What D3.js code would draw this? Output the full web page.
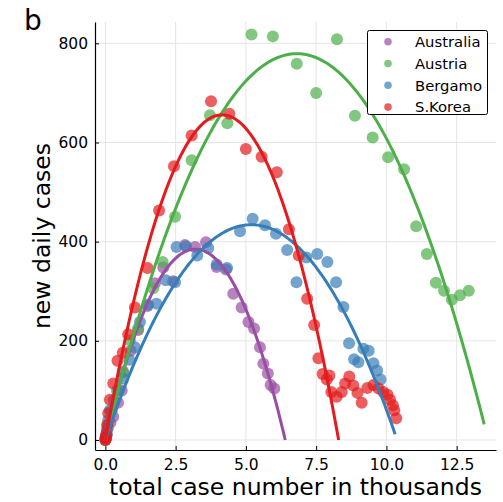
<!DOCTYPE html>
<html>
<head>
<meta charset="utf-8">
<script src="https://cdn.jsdelivr.net/npm/d3@7"></script>
<style>
  html, body { margin: 0; padding: 0; background: #fff; }
  svg { display: block; font-family: "DejaVu Sans", sans-serif; }
</style>
</head>
<body>
<svg id="chart" width="503" height="502"></svg>
<script>
// ---------- data ----------
const countries = ["Australia", "Austria", "Bergamo", "S.Korea"];
const colors = ["#984ea3", "#4daf4a", "#377eb8", "#e41a1c"];

const australia = [[0,0],[0.02,5],[0.05,10],[0.09,24],[0.18,35],[0.28,47],[0.45,75],[0.58,100],[0.63,138],[0.9,180],[1.17,222],[1.5,270],[1.76,316],[2.06,348],[2.41,320],[2.83,393],[3.19,389],[3.58,399],[3.96,349],[4.29,344],[4.55,295],[4.85,267],[5.09,238],[5.29,225],[5.50,187],[5.62,154],[5.78,134],[5.88,111],[6.01,104]];

const austria = [[0,0],[0.02,4],[0.05,12],[0.09,30],[0.23,60],[0.41,100],[0.62,136],[0.87,201],[1.16,225],[1.70,306],[2.04,359],[2.48,450],[3.07,564],[3.72,655],[4.34,639],[5.20,818],[5.96,814],[6.81,759],[7.50,700],[8.24,808],[8.88,654],[9.51,610],[10.06,570],[10.63,546],[11.06,431],[11.44,375],[11.76,317],[12.05,301],[12.33,283],[12.62,292],[12.93,301]];

const bergamo = [[0,5],[0.05,20],[0.10,40],[0.16,60],[0.3,80],[0.46,100],[0.63,124],[0.85,162],[1.05,187],[1.23,238],[1.52,273],[1.82,275],[2.15,322],[2.48,318],[2.53,389],[2.87,390],[3.27,372],[3.66,387],[3.96,354],[4.33,347],[4.79,421],[5.24,446],[5.68,433],[6.07,416],[6.47,383],[6.80,318],[7.15,368],[7.54,375],[7.90,359],[8.21,318],[8.47,268],[8.67,195],[8.85,163],[9.00,157],[9.18,184],[9.37,180],[9.54,155],[9.67,140],[9.79,122]];

const skorea = [[0,0],[0.01,2],[0.02,6],[0.03,12],[0.06,30],[0.10,54],[0.16,81],[0.28,114],[0.43,160],[0.62,176],[0.81,213],[1.05,267],[1.50,347],[1.91,463],[2.44,552],[3.07,614],[3.76,683],[4.41,658],[5.00,587],[5.56,571],[6.10,540],[6.53,425],[6.88,372],[7.18,285],[7.43,232],[7.58,165],[7.73,133],[7.88,122],[7.97,130],[8.04,97],[8.23,87],[8.41,97],[8.53,114],[8.68,128],[8.82,110],[8.97,95],[9.12,75],[9.32,105],[9.54,111],[9.72,104],[9.89,97],[10.04,91],[10.13,81],[10.23,70],[10.28,60],[10.35,44]];

// logistic fit parameters: daily = r * N * (1 - N / K), drawn from 0 to fitEnd
const fitR = [240.6, 228.8, 167.3, 316.0];
const fitK = [6.40, 13.62, 10.38, 8.30];
const fitEnd = [6.40, 13.48, 10.31, 8.30];

const xTicks = [0, 2.5, 5, 7.5, 10, 12.5];
const xTickLabels = ["0.0", "2.5", "5.0", "7.5", "10.0", "12.5"];
const yTicks = [0, 200, 400, 600, 800];
const yTickLabels = ["0", "200", "400", "600", "800"];

const seriesPoints = [australia, austria, bergamo, skorea];

// ---------- layout ----------
const svg = d3.select("#chart");
const pLeft = 95, pRight = 496, pTop = 22, pBottom = 450;

const x = d3.scaleLinear().domain([-0.37, 13.9]).range([pLeft, pRight]);
const y = d3.scaleLinear().domain([-20.2, 843]).range([pBottom, pTop]);

// grid
const grid = svg.append("g");
grid.selectAll("line.gx").data(xTicks).enter().append("line")
  .attr("x1", d => x(d)).attr("x2", d => x(d))
  .attr("y1", pTop).attr("y2", pBottom)
  .attr("stroke", "#e5e5e5").attr("stroke-width", 1);
grid.selectAll("line.gy").data(yTicks).enter().append("line")
  .attr("x1", pLeft).attr("x2", pRight)
  .attr("y1", d => y(d)).attr("y2", d => y(d))
  .attr("stroke", "#e5e5e5").attr("stroke-width", 1);

// axes
const xAxis = d3.axisBottom(x).tickValues(xTicks)
  .tickFormat((d, i) => xTickLabels[i]).tickSizeInner(-4).tickSizeOuter(0).tickPadding(9);
const yAxis = d3.axisLeft(y).tickValues(yTicks)
  .tickFormat((d, i) => yTickLabels[i]).tickSizeInner(-4).tickSizeOuter(0).tickPadding(7);

const gx = svg.append("g").attr("transform", `translate(0,${pBottom})`).call(xAxis);
const gy = svg.append("g").attr("transform", `translate(${pLeft},0)`).call(yAxis);
[gx, gy].forEach(g => {
  g.select(".domain").attr("stroke", "#000").attr("stroke-width", 1.2);
  g.selectAll(".tick line").attr("stroke", "#000").attr("stroke-width", 1);
  g.selectAll(".tick text").attr("fill", "#000")
    .style("font-family", "DejaVu Sans").style("font-size", "15.5px");
});

// points
const dots = svg.append("g");
seriesPoints.forEach((pts, i) => {
  dots.append("g").selectAll("circle").data(pts).enter().append("circle")
    .attr("cx", d => x(d[0])).attr("cy", d => y(d[1])).attr("r", 6)
    .attr("fill", colors[i]).attr("fill-opacity", 0.7);
});

// fitted curves
const line = d3.line().x(d => x(d[0])).y(d => y(d[1]));
countries.forEach((c, i) => {
  const n = 200;
  const curve = d3.range(n + 1).map(k => {
    const N = fitEnd[i] * k / n;
    return [N, fitR[i] * N * (1 - N / fitK[i])];
  });
  svg.append("path").datum(curve).attr("d", line)
    .attr("fill", "none").attr("stroke", colors[i]).attr("stroke-width", 3);
});

// legend
const lg = svg.append("g");
lg.append("rect").attr("x", 367.5).attr("y", 30.5).attr("width", 120).attr("height", 84)
  .attr("rx", 2).attr("fill", "#fff").attr("stroke", "#000").attr("stroke-width", 1);
countries.forEach((c, i) => {
  const yy = 41.7 + i * 21.8;
  lg.append("circle").attr("cx", 388).attr("cy", yy).attr("r", 3.8)
    .attr("fill", colors[i]).attr("fill-opacity", 0.7);
  lg.append("text").attr("x", 415).attr("y", yy).attr("dy", "0.36em")
    .style("font-size", "14.8px").attr("fill", "#000").text(c);
});

// axis labels
svg.append("text").attr("x", (pLeft + pRight) / 2).attr("y", 495)
  .attr("text-anchor", "middle").style("font-size", "23.5px").text("total case number in thousands");
svg.append("text").attr("transform", `translate(50,${(pTop + pBottom) / 2}) rotate(-90)`)
  .attr("text-anchor", "middle").style("font-size", "23.5px").text("new daily cases");

// panel letter
svg.append("text").attr("x", 24).attr("y", 30).style("font-size", "28px").text("b");
</script>
</body>
</html>
